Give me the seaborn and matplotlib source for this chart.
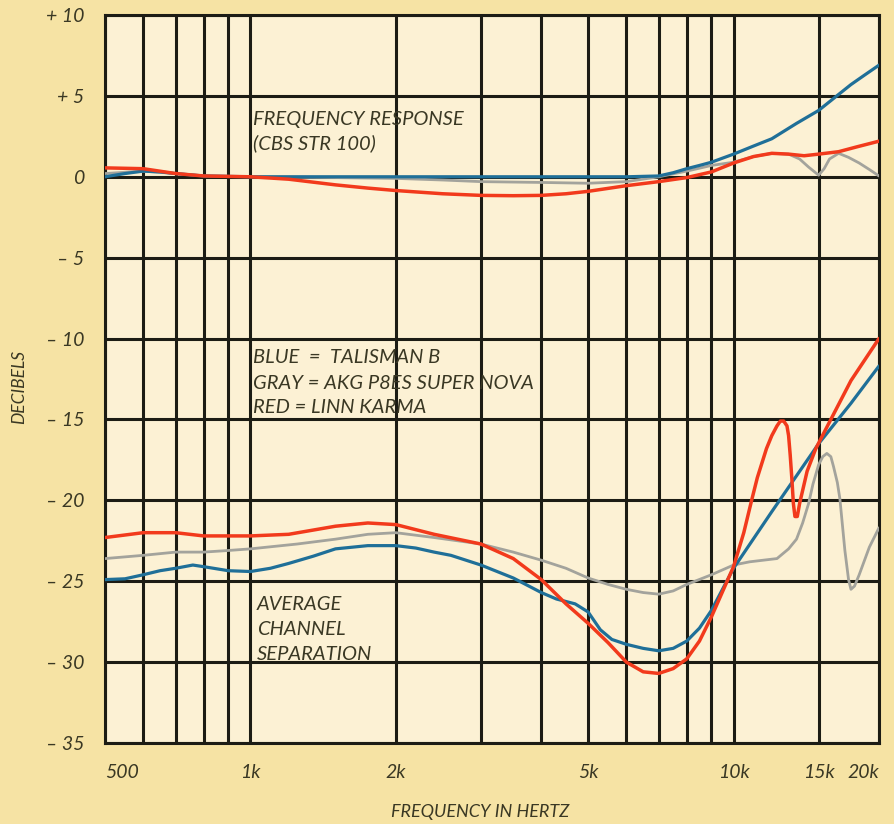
import matplotlib
matplotlib.use('Agg')
import matplotlib.pyplot as plt
import numpy as np
import pandas as pd
import seaborn as sns

# ---- data (frequency in Hz, level in dB) ----
RESP_BLUE_F = [500, 550, 600, 650, 700, 800, 1000, 1500, 2000, 3000, 4000, 5000, 6000, 7000,
               7500, 8000, 8500, 9000, 10000, 11000, 12000, 13500, 15000, 16200, 17500,
               18700, 20000]
RESP_BLUE = [0.0, 0.2, 0.35, 0.3, 0.2, 0.05, 0.0, 0.0, 0.0, 0.0, 0.0, 0.0, 0.0, 0.05,
             0.25, 0.5, 0.7, 0.9, 1.4, 1.9, 2.35, 3.3, 4.1, 4.9, 5.7, 6.3, 6.9]

RESP_GRAY_F = [500, 600, 700, 800, 1000, 1500, 2000, 2500, 3000, 4000, 5000, 6000, 7000,
               8000, 9000, 10000, 11000, 12000, 13000, 13700, 14300, 15000, 15400,
               15800, 16500, 17300, 18200, 19100, 20000]
RESP_GRAY = [0.2, 0.35, 0.2, 0.05, 0.0, -0.05, -0.1, -0.2, -0.3, -0.35, -0.4, -0.3, 0.0,
             0.35, 0.7, 0.9, 1.25, 1.45, 1.4, 1.1, 0.6, 0.1, 0.5,
             1.1, 1.45, 1.2, 0.85, 0.45, 0.05]

RESP_RED_F = [500, 600, 700, 800, 1000, 1200, 1500, 1750, 2000, 2500, 3000, 3500, 4000,
              4500, 5000, 6000, 7000, 8000, 9000, 10000, 11000, 12000, 13000, 14000,
              15000, 16500, 18000, 20000]
RESP_RED = [0.55, 0.5, 0.2, 0.05, 0.0, -0.15, -0.5, -0.7, -0.85, -1.05, -1.15, -1.17, -1.15,
            -1.05, -0.9, -0.55, -0.3, -0.05, 0.3, 0.85, 1.25, 1.45, 1.4, 1.3,
            1.4, 1.55, 1.85, 2.2]

SEP_BLUE_F = [500, 550, 600, 650, 700, 760, 800, 900, 1000, 1100, 1200, 1350, 1500, 1750,
              2000, 2200, 2400, 2600, 3000, 3500, 4000, 4300, 4700, 5000, 5300, 5600,
              6000, 6500, 7000, 7500, 8000, 8500, 9000, 10000, 12000, 15000, 17500, 20000]
SEP_BLUE = [-24.9, -24.85, -24.6, -24.35, -24.2, -24.0, -24.1, -24.35, -24.4, -24.2, -23.9,
            -23.45, -23.0, -22.8, -22.8, -22.95, -23.2, -23.4, -24.0, -24.8, -25.7, -26.1,
            -26.4, -26.9, -28.0, -28.6, -28.9, -29.15, -29.3, -29.15, -28.7, -27.9, -26.8,
            -24.2, -20.7, -16.5, -14.0, -11.7]

SEP_GRAY_F = [500, 600, 700, 800, 900, 1000, 1250, 1500, 1750, 2000, 2400, 3000, 3500, 4000,
              4500, 5000, 5500, 6000, 6500, 7000, 7500, 8000, 9000, 10000, 10800, 12300,
              13000, 13500, 13900, 14300, 14600, 15000, 15300, 15600, 15900, 16100, 16400,
              16600, 17000, 17300, 17500, 17800, 18200, 19100, 20000]
SEP_GRAY = [-23.6, -23.4, -23.2, -23.2, -23.1, -23.0, -22.7, -22.4, -22.1, -22.0, -22.3,
            -22.7, -23.2, -23.7, -24.2, -24.8, -25.2, -25.5, -25.7, -25.8, -25.6, -25.2,
            -24.6, -24.0, -23.8, -23.6, -23.0, -22.4, -21.4, -20.2, -19.0, -17.8, -17.3,
            -17.1, -17.3, -17.9, -18.9, -19.9, -23.1, -24.9, -25.5, -25.3, -24.6, -22.9, -21.7]

SEP_RED_F = [500, 600, 700, 800, 900, 1000, 1200, 1500, 1750, 2000, 2400, 3000, 3500, 4000,
             4500, 5000, 5500, 6000, 6500, 7000, 7500, 8000, 8500, 9000, 10000, 10500,
             10900, 11200, 11700, 12000, 12300, 12500, 12700, 12900, 13000, 13100, 13200,
             13300, 13400, 13550, 13700, 14200, 14800, 15400, 15900, 17500, 20000]
SEP_RED = [-22.3, -22.0, -22.0, -22.2, -22.2, -22.2, -22.1, -21.6, -21.4, -21.5, -22.1,
           -22.7, -23.6, -24.9, -26.4, -27.6, -28.8, -30.0, -30.6, -30.7, -30.4, -29.8,
           -28.7, -27.2, -24.1, -22.0, -20.0, -18.6, -16.8, -16.0, -15.4, -15.1, -15.1,
           -15.4, -16.0, -17.2, -18.6, -20.2, -21.0, -21.0, -20.2, -18.2, -16.8, -15.8,
           -15.0, -12.6, -10.0]

GRID_FREQS = [500, 600, 700, 800, 900, 1000, 2000, 3000, 4000, 5000, 6000, 7000, 8000,
              9000, 10000, 15000, 20000]
X_LABELS = {500: '500', 1000: '1k', 2000: '2k', 5000: '5k', 10000: '10k',
            15000: '15k', 20000: '20k'}
Y_TICKS = [10, 5, 0, -5, -10, -15, -20, -25, -30, -35]
Y_LABELS = ['+ 10', '+ 5', '0', '\u2013 5', '\u2013 10', '\u2013 15', '\u2013 20',
            '\u2013 25', '\u2013 30', '\u2013 35']

RESPONSE_NOTE = ['FREQUENCY RESPONSE', '(CBS STR 100)']
KEY_NOTE = ['BLUE  =  TALISMAN B', 'GRAY = AKG P8ES SUPER NOVA', 'RED = LINN KARMA']
SEP_NOTE = ['AVERAGE', 'CHANNEL', 'SEPARATION']

BLUE = '#1f6f98'
GRAY = '#a3a39c'
RED = '#f23a1c'
INK = '#3a3824'
GRID = '#1c1c14'

sns.set_theme(style='white')
plt.rcParams['font.family'] = ['Lato', 'DejaVu Sans']

fig = plt.figure(figsize=(8.95, 8.24), dpi=100, facecolor='#f6e3a4')
ax = fig.add_axes([0.1173, 0.0983, 0.8648, 0.8835], facecolor='#fcf1d4')

series = [
    (RESP_GRAY_F, RESP_GRAY, GRAY, 2.0),
    (SEP_GRAY_F, SEP_GRAY, GRAY, 2.0),
    (RESP_BLUE_F, RESP_BLUE, BLUE, 2.3),
    (SEP_BLUE_F, SEP_BLUE, BLUE, 2.3),
    (RESP_RED_F, RESP_RED, RED, 2.5),
    (SEP_RED_F, SEP_RED, RED, 2.5),
]
for f, db, color, lw in series:
    df = pd.DataFrame({'freq': f, 'db': db})
    sns.lineplot(data=df, x='freq', y='db', ax=ax, color=color, linewidth=lw,
                 sort=False, zorder=3)

ax.set_xscale('log')
ax.set_xlim(500, 20000)
ax.set_ylim(-35, 10)

ax.set_xticks(GRID_FREQS)
ax.set_xticklabels([X_LABELS.get(f, '') for f in GRID_FREQS])
ax.xaxis.set_minor_locator(matplotlib.ticker.NullLocator())
ax.set_yticks(Y_TICKS)
ax.set_yticklabels(Y_LABELS)
ax.tick_params(axis='both', length=0, labelsize=14, labelcolor=INK)
ax.tick_params(axis='x', pad=15)
ax.tick_params(axis='y', pad=15)
for lab in ax.get_xticklabels() + ax.get_yticklabels():
    lab.set_style('italic')
xl = ax.get_xticklabels()
xl[0].set_horizontalalignment('left')
xl[-1].set_horizontalalignment('right')

ax.grid(True, which='major', color=GRID, linewidth=2.2, zorder=1)
ax.set_axisbelow(True)
for sp in ax.spines.values():
    sp.set_color(GRID)
    sp.set_linewidth(2.2)
ax.set_xlabel('')
ax.set_ylabel('')

fig.text(0.537, 0.0146, 'FREQUENCY IN HERTZ', fontsize=13, color=INK, style='italic',
         ha='center', va='center')
fig.text(0.021, 0.53, 'DECIBELS', fontsize=12.5, color=INK, style='italic',
         rotation=90, ha='center', va='center')

# notes inside the plot, one line at a time (baselines about 25 px apart)
txt = dict(fontsize=14.5, color=INK, style='italic', va='baseline', ha='left', zorder=4)
for line, y in zip(RESPONSE_NOTE, [3.2, 1.7]):
    ax.text(1012, y, line, **txt)
for line, y in zip(KEY_NOTE, [-11.5, -13.1, -14.6]):
    ax.text(1012, y, line, **txt)
for line, y in zip(SEP_NOTE, [-26.8, -28.35, -29.9]):
    ax.text(1030, y, line, **txt)

fig.savefig('out.png', dpi=100, facecolor=fig.get_facecolor())
